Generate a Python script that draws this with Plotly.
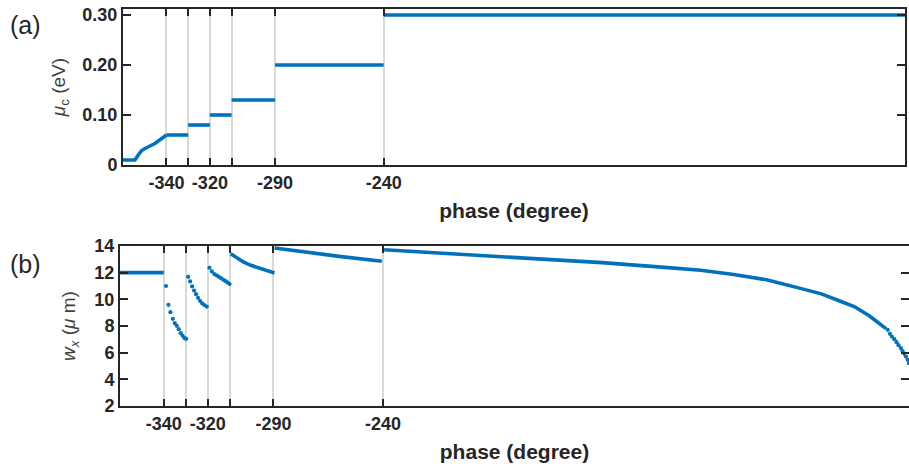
import plotly.graph_objects as go

BLUE = '#0072BD'
AXC = '#262626'
GRID = '#d9d9d9'
FONT = 'Liberation Sans'

# ---------------- data: panel (a) mu_c vs phase ----------------
a_rise_phase = [-360, -354.5, -353, -351.4, -349.9, -345.3, -340]
a_rise_mu = [0.01, 0.01, 0.02, 0.029, 0.033, 0.043, 0.06]
a_step_start = [-340, -330, -320, -310, -290, -240]
a_step_end = [-330, -320, -310, -290, -240, 0]
a_step_mu = [0.06, 0.08, 0.10, 0.13, 0.20, 0.30]

# ---------------- data: panel (b) w_x vs phase ----------------
b_flat_phase = [-360, -340]
b_flat_w = [12.0, 12.0]
b_s1_phase = [-339.0, -337.9, -337.0, -335.9, -335.0, -334.1, -333.2, -332.3, -331.4, -330.5, -329.8]
b_s1_w = [11.0, 9.59, 9.04, 8.54, 8.21, 8.01, 7.76, 7.46, 7.26, 7.09, 7.04]
b_s2_phase = [-328.9, -328.0, -327.1, -326.2, -325.3, -324.4, -323.5, -322.5, -321.5, -320.4]
b_s2_w = [11.69, 11.34, 10.97, 10.66, 10.39, 10.12, 9.89, 9.69, 9.57, 9.46]
b_s3_phase = [-319.2, -318.1, -317.0, -316.0, -315.0, -314.0, -313.0, -312.0, -311.0, -310.0]
b_s3_w = [12.37, 12.09, 11.90, 11.80, 11.70, 11.60, 11.48, 11.38, 11.27, 11.15]
b_s4_phase = [-309.5, -306.7, -303.7, -300.6, -297.6, -294.5, -291.5, -289.5]
b_s4_w = [13.42, 13.10, 12.80, 12.57, 12.40, 12.22, 12.07, 11.97]
b_s5_phase = [-289.5, -275, -260, -240.5]
b_s5_w = [13.85, 13.52, 13.22, 12.85]
b_s6_phase = [-239.5, -200, -160, -140, -110, -95, -80, -65, -50, -40, -31, -25, -18, -12, -10.5]
b_s6_w = [13.72, 13.33, 12.95, 12.75, 12.38, 12.18, 11.86, 11.47, 10.84, 10.41, 9.84, 9.46, 8.75, 8.02, 7.80]
b_tail_phase = [-9.7, -8.7, -7.8, -6.7, -5.7, -4.8, -3.7, -2.9, -2.2, -1.4, -0.6, 0]
b_tail_w = [7.71, 7.41, 7.21, 7.01, 6.79, 6.56, 6.34, 6.11, 5.91, 5.71, 5.46, 5.21]

x_tickvals = [-340, -320, -290, -240]
x_ticktext = ['-340', '-320', '-290', '-240']
x_minor_tickvals = [-330, -310]
a_ytickvals = [0, 0.1, 0.2, 0.3]
a_yticktext = ['0', '0.10', '0.20', '0.30']
b_ytickvals = [2, 4, 6, 8, 10, 12, 14]

fig = go.Figure()

def line(x, y, xa, ya):
    fig.add_trace(go.Scatter(x=x, y=y, mode='lines', line=dict(color=BLUE, width=3.6),
                             xaxis=xa, yaxis=ya, showlegend=False, hoverinfo='skip'))

def dots(x, y, xa, ya):
    fig.add_trace(go.Scatter(x=x, y=y, mode='markers', marker=dict(color=BLUE, size=4.2),
                             xaxis=xa, yaxis=ya, showlegend=False, hoverinfo='skip',
                             cliponaxis=False))

# panel (a)
line(a_rise_phase, a_rise_mu, 'x', 'y')
for x0, x1, m in zip(a_step_start, a_step_end, a_step_mu):
    line([x0, x1], [m, m], 'x', 'y')

# panel (b)
line(b_flat_phase, b_flat_w, 'x2', 'y2')
dots(b_s1_phase, b_s1_w, 'x2', 'y2')
dots(b_s2_phase, b_s2_w, 'x2', 'y2')
dots(b_s3_phase, b_s3_w, 'x2', 'y2')
line(b_s4_phase, b_s4_w, 'x2', 'y2')
line(b_s5_phase, b_s5_w, 'x2', 'y2')
line(b_s6_phase, b_s6_w, 'x2', 'y2')
dots(b_tail_phase, b_tail_w, 'x2', 'y2')

W, H = 909, 467

def px_x(v):
    return min(1.0, max(0.0, v / W))

def px_y(v):
    return min(1.0, max(0.0, 1 - v / H))

def xax(dom):
    return dict(domain=dom, range=[-360, 0], tickmode='array', tickvals=x_tickvals, ticktext=x_ticktext,
                automargin=False, ticklabeloverflow='allow',
                showgrid=True, gridcolor=GRID, gridwidth=1.6, zeroline=False,
                showline=True, linecolor=AXC, linewidth=2, mirror='ticks',
                ticks='inside', ticklen=7, tickwidth=2, tickcolor=AXC,
                minor=dict(tickmode='array', tickvals=x_minor_tickvals, ticks='inside', ticklen=7,
                           tickwidth=2, tickcolor=AXC, showgrid=True, gridcolor=GRID, gridwidth=1.6),
                tickfont=dict(family=FONT, size=18, color=AXC, weight='bold'),
                title=dict(text='phase (degree)', standoff=12,
                           font=dict(family=FONT, size=21, color=AXC, weight='bold')))

def yax(dom, rng, tv, tt, title, anchor, standoff):
    return dict(domain=dom, range=rng, tickmode='array', tickvals=tv, ticktext=tt,
                automargin=False, ticklabeloverflow='allow',
                showgrid=False, zeroline=False, anchor=anchor,
                showline=True, linecolor=AXC, linewidth=2, mirror='ticks',
                ticks='inside', ticklen=8, tickwidth=2, tickcolor=AXC,
                tickfont=dict(family=FONT, size=18, color=AXC, weight='bold'),
                title=dict(text=title, standoff=standoff,
                           font=dict(family=FONT, size=19, color='#404040')))

fig.update_layout(
    width=W, height=H,
    margin=dict(l=0, r=0, t=0, b=0, autoexpand=False),
    paper_bgcolor='white', plot_bgcolor='white',
    hovermode=False,
    xaxis=dict(xax([px_x(123), px_x(905)]), anchor='y'),
    yaxis=yax([px_y(165), px_y(9)], [0, 0.312], a_ytickvals, a_yticktext,
              '<i>μ</i><sub>c</sub> (eV)', 'x', 12),
    xaxis2=dict(xax([px_x(120), px_x(909)]), anchor='y2'),
    yaxis2=yax([px_y(406), px_y(246)], [2, 14], b_ytickvals, [str(v) for v in b_ytickvals],
               '<i>w<sub>x</sub></i> (<i>μ</i> m)', 'x2', 14),
    annotations=[
        dict(text='(a)', x=px_x(25), y=px_y(25), xref='paper', yref='paper', showarrow=False,
             xanchor='center', yanchor='middle', font=dict(family=FONT, size=25, color=AXC)),
        dict(text='(b)', x=px_x(25), y=px_y(264), xref='paper', yref='paper', showarrow=False,
             xanchor='center', yanchor='middle', font=dict(family=FONT, size=25, color=AXC)),
    ],
)

fig.write_html('out.html', config={'displayModeBar': False},
               post_script="document.body.style.margin='0';document.body.style.overflow='hidden';")
